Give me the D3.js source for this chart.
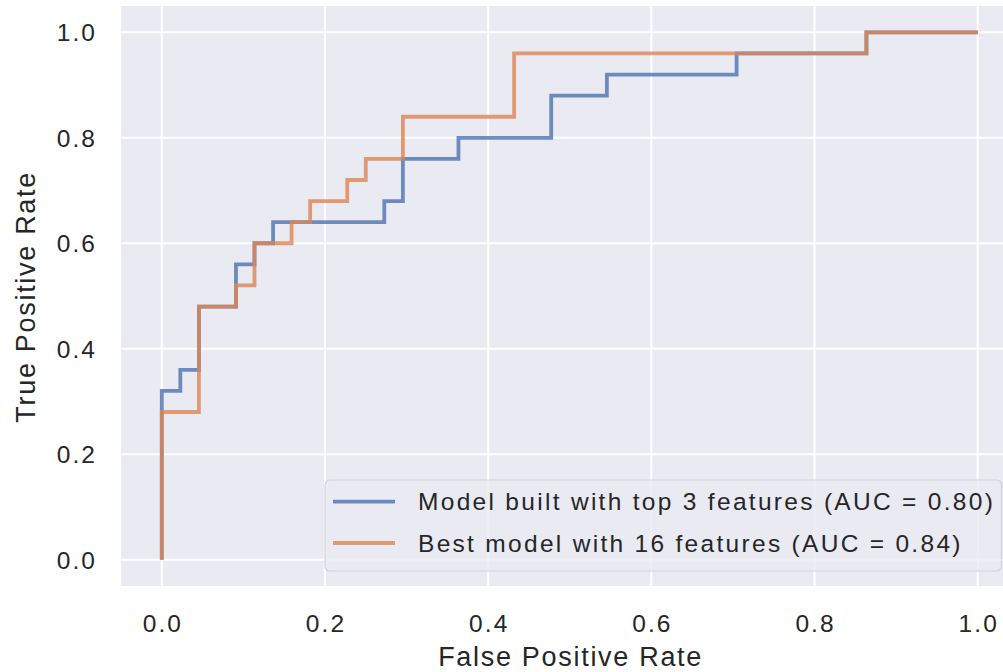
<!DOCTYPE html>
<html>
<head>
<meta charset="utf-8">
<script src="https://cdn.jsdelivr.net/npm/d3@7"></script>
<style>
  body { margin: 0; background: #fff; }
  text { font-family: "Liberation Sans", Arial, sans-serif; fill: #262626; }
</style>
</head>
<body>
<div id="chart"></div>
<script>
// ROC points (false positive rate, true positive rate)
const fprTop3 = [0, 0, 0.0227, 0.0227, 0.0455, 0.0455, 0.0909, 0.0909, 0.1136, 0.1136, 0.1364, 0.1364,
    0.2727, 0.2727, 0.2955, 0.2955, 0.3636, 0.3636, 0.4773, 0.4773, 0.5455, 0.5455, 0.7045, 0.7045,
    0.8636, 0.8636, 1.0];
const tprTop3 = [0, 0.32, 0.32, 0.36, 0.36, 0.48, 0.48, 0.56, 0.56, 0.60, 0.60, 0.64,
    0.64, 0.68, 0.68, 0.76, 0.76, 0.80, 0.80, 0.88, 0.88, 0.92, 0.92, 0.96,
    0.96, 1.0, 1.0];

const fprBest = [0, 0, 0.0455, 0.0455, 0.0909, 0.0909, 0.1136, 0.1136, 0.1591, 0.1591, 0.1818, 0.1818,
    0.2273, 0.2273, 0.25, 0.25, 0.2955, 0.2955, 0.4318, 0.4318, 0.8636, 0.8636, 1.0];
const tprBest = [0, 0.28, 0.28, 0.48, 0.48, 0.52, 0.52, 0.60, 0.60, 0.64, 0.64, 0.68,
    0.68, 0.72, 0.72, 0.76, 0.76, 0.84, 0.84, 0.96, 0.96, 1.0, 1.0];

const seriesNames = ["Model built with top 3 features (AUC = 0.80)", "Best model with 16 features (AUC = 0.84)"];
const seriesColors = ["#4C72B0", "#DD8452"];
const tickValues = [0, 0.2, 0.4, 0.6, 0.8, 1.0];

const WIDTH = 1003, HEIGHT = 672;
const AX = { left: 121, right: 1018.5, top: 6, bottom: 586 };
const TICK_FONT = 24.5, TICK_LS = 2.1;
const LABEL_FONT = 27, LABEL_LS = 1.7;
const LEGEND_FONT = 24.5, LEGEND_LS = 2.3;

const svg = d3.select("#chart")
    .append("svg")
    .attr("width", WIDTH)
    .attr("height", HEIGHT);

const x = d3.scaleLinear().domain([-0.05, 1.05]).range([AX.left, AX.right]);
const y = d3.scaleLinear().domain([-0.05, 1.05]).range([AX.bottom, AX.top]);

svg.append("rect")
    .attr("x", AX.left)
    .attr("y", AX.top)
    .attr("width", AX.right - AX.left)
    .attr("height", AX.bottom - AX.top)
    .attr("fill", "#EAEAF2");

// grid
svg.append("g")
    .selectAll("line")
    .data(tickValues)
    .join("line")
    .attr("x1", d => x(d)).attr("x2", d => x(d))
    .attr("y1", AX.top).attr("y2", AX.bottom)
    .attr("stroke", "#fff").attr("stroke-width", 2);

svg.append("g")
    .selectAll("line")
    .data(tickValues)
    .join("line")
    .attr("y1", d => y(d)).attr("y2", d => y(d))
    .attr("x1", AX.left).attr("x2", AX.right)
    .attr("stroke", "#fff").attr("stroke-width", 2);

// tick labels
svg.append("g")
    .selectAll("text")
    .data(tickValues)
    .join("text")
    .attr("x", d => x(d) + TICK_LS / 2)
    .attr("y", 632)
    .attr("text-anchor", "middle")
    .style("font-size", TICK_FONT + "px")
    .style("letter-spacing", TICK_LS + "px")
    .text(d => d.toFixed(1));

svg.append("g")
    .selectAll("text")
    .data(tickValues)
    .join("text")
    .attr("x", 95 + TICK_LS)
    .attr("y", d => y(d) + 9)
    .attr("text-anchor", "end")
    .style("font-size", TICK_FONT + "px")
    .style("letter-spacing", TICK_LS + "px")
    .text(d => d.toFixed(1));

// axis labels
svg.append("text")
    .attr("x", (AX.left + AX.right) / 2 + LABEL_LS / 2)
    .attr("y", 666)
    .attr("text-anchor", "middle")
    .style("font-size", LABEL_FONT + "px")
    .style("letter-spacing", LABEL_LS + "px")
    .text("False Positive Rate");

svg.append("text")
    .attr("transform", `translate(35, ${(AX.top + AX.bottom) / 2 + LABEL_LS / 2}) rotate(-90)`)
    .attr("text-anchor", "middle")
    .style("font-size", LABEL_FONT + "px")
    .style("letter-spacing", LABEL_LS + "px")
    .text("True Positive Rate");

// curves
const line = d3.line().x(d => x(d[0])).y(d => y(d[1]));
const curves = [d3.zip(fprTop3, tprTop3), d3.zip(fprBest, tprBest)];

const plot = svg.append("g");
curves.forEach((pts, i) => {
    plot.append("path")
        .datum(pts)
        .attr("d", line)
        .attr("fill", "none")
        .attr("stroke", seriesColors[i])
        .attr("stroke-width", 3.8)
        .attr("stroke-opacity", 0.8)
        .attr("stroke-linejoin", "miter");
});

// legend
const legend = svg.append("g");
legend.append("rect")
    .attr("x", 325)
    .attr("y", 480)
    .attr("width", 676.5)
    .attr("height", 91)
    .attr("rx", 5)
    .attr("fill", "#EAEAF2")
    .attr("fill-opacity", 0.8)
    .attr("stroke", "#CCCCCC")
    .attr("stroke-opacity", 0.8)
    .attr("stroke-width", 1.2);

const rowY = [501.7, 543];
seriesNames.forEach((name, i) => {
    legend.append("line")
        .attr("x1", 333).attr("x2", 395)
        .attr("y1", rowY[i]).attr("y2", rowY[i])
        .attr("stroke", seriesColors[i])
        .attr("stroke-width", 3.8)
        .attr("stroke-opacity", 0.8);
    legend.append("text")
        .attr("x", 418)
        .attr("y", rowY[i] + 8.7)
        .style("font-size", LEGEND_FONT + "px")
        .style("letter-spacing", LEGEND_LS + "px")
        .text(name);
});
</script>
</body>
</html>
